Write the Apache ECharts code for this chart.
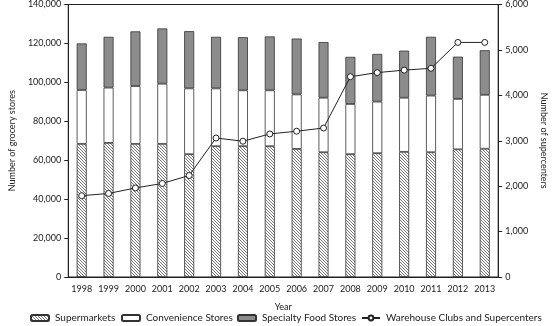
<!DOCTYPE html>
<html><head><meta charset="utf-8">
<script src="https://cdn.jsdelivr.net/npm/echarts@6/dist/echarts.min.js"></script>
<style>html,body{margin:0;padding:0;background:#fff}#c{width:556px;height:326px}</style>
</head><body><div id="c"></div>
<script>
var years = ['1998','1999','2000','2001','2002','2003','2004','2005','2006','2007','2008','2009','2010','2011','2012','2013'];
var supermarkets = [68400,68900,68400,68400,63100,67200,67200,67200,65800,64100,63100,63600,64300,64100,65600,65900];
var convenienceTop = [96100,97300,98100,99300,96900,96900,95900,95900,93800,92100,88900,90100,92100,93200,91500,93600];
var totalTop = [120000,123400,126200,127700,126300,123400,123200,123600,122500,120700,113100,114600,116300,123400,113200,116500];
var supercenters = [1790,1840,1960,2060,2235,3060,2990,3150,3210,3280,4410,4500,4555,4595,5165,5165];
var leftTicks = ['0','20,000','40,000','60,000','80,000','100,000','120,000','140,000'];
var rightTicks = ['0','1,000','2,000','3,000','4,000','5,000','6,000'];
var seriesNames = ['Supermarkets','Convenience Stores','Specialty Food Stores','Warehouse Clubs and Supercenters'];

var convenience = convenienceTop.map(function(v,i){return v - supermarkets[i];});
var specialty = totalTop.map(function(v,i){return v - convenienceTop[i];});

function hatch(){
  var c = document.createElement('canvas'); c.width = 3; c.height = 3;
  var g = c.getContext('2d');
  g.fillStyle = '#fff'; g.fillRect(0,0,3,3);
  g.fillStyle = '#777';
  g.fillRect(0,0,1,1); g.fillRect(1,1,1,1); g.fillRect(2,2,1,1);
  return c;
}
var font = 'Lato';
var txt = '#222';
function leg(i, left){
  return {top:313,left:left,padding:0,itemWidth:18,itemHeight:6,itemGap:0,
    textStyle:{fontSize:10,color:txt,fontFamily:font,padding:[0,0,0,1]},
    data:[{name:seriesNames[i]}]};
}
var chart = echarts.init(document.getElementById('c'), null, {renderer:'canvas'});
chart.setOption({
  animation:false,
  textStyle:{fontFamily:font},
  grid:{left:49,right:41,top:4,bottom:49,show:true,borderColor:'#222',borderWidth:1},
  legend:[leg(0,30),leg(1,121),leg(2,237),leg(3,361)],
  xAxis:{
    type:'category',data:years,
    axisLine:{lineStyle:{color:txt}},axisTick:{show:false},
    axisLabel:{fontSize:9,color:txt,margin:8,interval:0},
    name:'Year',nameLocation:'middle',nameGap:26,nameTextStyle:{fontSize:9,color:txt}
  },
  yAxis:[
    {type:'value',min:0,max:140000,interval:20000,
     axisLine:{show:true,lineStyle:{color:txt}},axisTick:{show:true,length:4,lineStyle:{color:txt}},
     splitLine:{show:false},
     axisLabel:{fontSize:9,color:txt,margin:7,formatter:function(v){return leftTicks[Math.round(v/20000)];}},
     name:'Number of grocery stores',nameLocation:'middle',nameGap:40,nameRotate:90,
     nameTextStyle:{fontSize:9,color:txt}},
    {type:'value',min:0,max:6000,interval:1000,position:'right',
     axisLine:{show:true,lineStyle:{color:txt}},axisTick:{show:true,length:4,lineStyle:{color:txt}},
     splitLine:{show:false},
     axisLabel:{fontSize:9,color:txt,margin:7,formatter:function(v){return rightTicks[Math.round(v/1000)];}},
     name:'Number of supercenters',nameLocation:'middle',nameGap:33,nameRotate:-90,
     nameTextStyle:{fontSize:9,color:txt}}
  ],
  series:[
    {name:seriesNames[0],type:'bar',stack:'s',barWidth:10,data:supermarkets,
     itemStyle:{color:{image:hatch(),repeat:'repeat'},borderColor:'#333',borderWidth:0.8}},
    {name:seriesNames[1],type:'bar',stack:'s',barWidth:10,data:convenience,
     itemStyle:{color:'#fff',borderColor:'#333',borderWidth:0.8}},
    {name:seriesNames[2],type:'bar',stack:'s',barWidth:10,data:specialty,
     itemStyle:{color:'#8c8c8c',borderColor:'#333',borderWidth:0.8}},
    {name:seriesNames[3],type:'line',yAxisIndex:1,data:supercenters,
     symbol:'circle',symbolSize:6,lineStyle:{color:txt,width:1},
     itemStyle:{color:'#fff',borderColor:txt,borderWidth:1}}
  ]
});
</script></body></html>
